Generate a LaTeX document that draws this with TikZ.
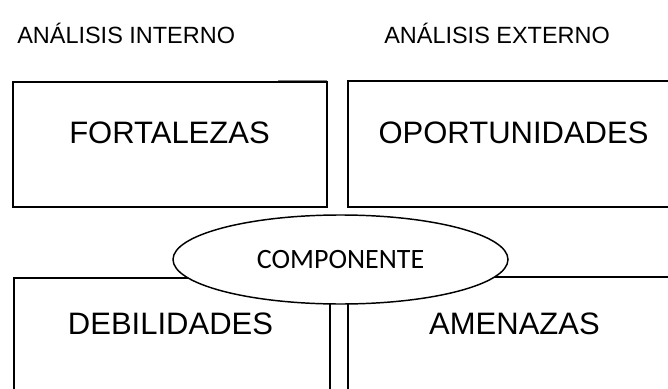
\documentclass[tikz,border=0pt]{standalone}
\usepackage{fontspec}
\setmainfont{Liberation Sans}
\newfontfamily\calibri{Carlito}
\usetikzlibrary{positioning,shapes.geometric,calc}

\begin{document}
\begin{tikzpicture}[
  x=0.75pt, y=-0.75pt,
  box/.style={draw, line width=1.5pt, inner sep=0pt, outer sep=0pt},
  lbl/.style={font=\fontsize{23.25pt}{28pt}\selectfont, anchor=base, inner sep=0pt},
  head/.style={font=\fontsize{17.6pt}{21pt}\selectfont, anchor=base west, inner sep=0pt},
  comp/.style={draw, ellipse, fill=white, line width=1.1pt, inner sep=0pt,
    minimum width=251.25pt, minimum height=66.75pt, font=\calibri\fontsize{21pt}{25pt}\selectfont}]

\useasboundingbox (0,0) rectangle (668,389);

% titulos
\node[head] (tInt) at (17,43) {ANÁLISIS INTERNO};
\node[head] (tExt) at (384,43) {ANÁLISIS EXTERNO};

% cuadrantes
\node[box, minimum width=235.5pt, minimum height=93.75pt] (fort) at (170,144.5) {};
\node[box, minimum width=256.5pt, minimum height=94.5pt] (opor) at (519,144) {};
\node[box, minimum width=237pt, minimum height=106.5pt] (debi) at (172,349) {};
\node[box, minimum width=256.5pt, minimum height=107.25pt] (amen) at (519,348.5) {};

\draw[gray, line width=0.6pt] ($(fort.north east)+(-49,-2)$) -- ($(fort.north east)+(0,-2)$);

\node[lbl] (lFort) at (169.5,143) {FORTALEZAS};
\node[lbl] (lOpor) at (513.5,143) {OPORTUNIDADES};
\node[lbl] (lDebi) at (170.5,334) {DEBILIDADES};
\node[lbl] (lAmen) at (514.5,334) {AMENAZAS};

% componente
\node[comp] (comp) at (340.5,259.5) {COMPONENTE};

\end{tikzpicture}
\end{document}
